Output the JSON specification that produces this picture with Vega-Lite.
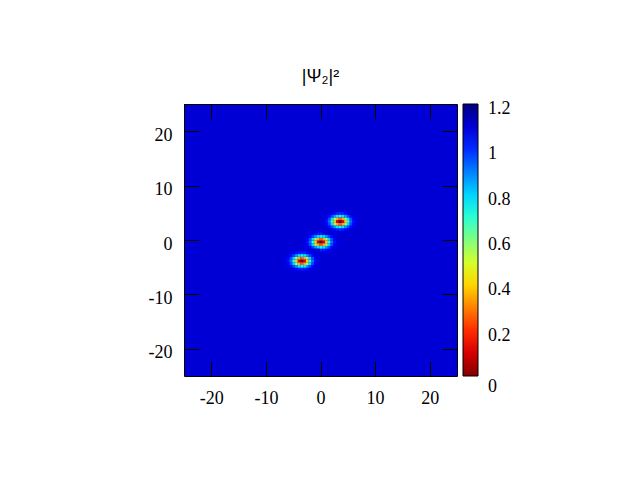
{
"$schema":"https://vega.github.io/schema/vega-lite/v6.json",
"width":273,"height":272,
"autosize":{"type":"none"},
"padding":{"left":184,"top":104,"right":183,"bottom":104},
"background":"white",
"title":{"text":"|Ψ₂|²","font":"Liberation Sans","fontSize":18,"fontWeight":"normal","color":"black","offset":18,"anchor":"middle"},
"config":{"view":{"stroke":null},
 "axis":{"grid":false,"domain":true,"domainColor":"black","domainWidth":1,"ticks":true,"tickColor":"black","tickWidth":1,"tickSize":-15,"labelFont":"Liberation Serif","labelFontSize":18,"labelColor":"black","title":null,"labelExpr":"'' + datum.value"}},
"datasets":{
"bg":[{"x0":-25,"x1":25,"y0":-25,"y1":25,"v":1.1}],
"spots":[
{"x":-3.25,"y":-2.5,"v":1.1},{"x":-2.75,"y":-2.5,"v":1.099},{"x":-2.25,"y":-2.5,"v":1.098},{"x":-1.75,"y":-2.5,"v":1.095},{"x":-1.25,"y":-2.5,"v":1.092},{"x":-0.75,"y":-2.5,"v":1.088},{"x":-0.25,"y":-2.5,"v":1.087},{"x":0.25,"y":-2.5,"v":1.088},{"x":0.75,"y":-2.5,"v":1.092},{"x":1.25,"y":-2.5,"v":1.095},{"x":1.75,"y":-2.5,"v":1.098},{"x":2.25,"y":-2.5,"v":1.099},{"x":2.75,"y":-2.5,"v":1.1},
{"x":-3.25,"y":-2,"v":1.098},{"x":-2.75,"y":-2,"v":1.094},{"x":-2.25,"y":-2,"v":1.085},{"x":-1.75,"y":-2,"v":1.067},{"x":-1.25,"y":-2,"v":1.042},{"x":-0.75,"y":-2,"v":1.019},{"x":-0.25,"y":-2,"v":1.009},{"x":0.25,"y":-2,"v":1.019},{"x":0.75,"y":-2,"v":1.042},{"x":1.25,"y":-2,"v":1.067},{"x":1.75,"y":-2,"v":1.085},{"x":2.25,"y":-2,"v":1.094},{"x":2.75,"y":-2,"v":1.098},
{"x":-3.25,"y":-1.5,"v":1.093},{"x":-2.75,"y":-1.5,"v":1.077},{"x":-2.25,"y":-1.5,"v":1.039},{"x":-1.75,"y":-1.5,"v":0.966},{"x":-1.25,"y":-1.5,"v":0.867},{"x":-0.75,"y":-1.5,"v":0.775},{"x":-0.25,"y":-1.5,"v":0.737},{"x":0.25,"y":-1.5,"v":0.775},{"x":0.75,"y":-1.5,"v":0.867},{"x":1.25,"y":-1.5,"v":0.966},{"x":1.75,"y":-1.5,"v":1.039},{"x":2.25,"y":-1.5,"v":1.077},{"x":2.75,"y":-1.5,"v":1.093},
{"x":-3.25,"y":-1,"v":1.085},{"x":-2.75,"y":-1,"v":1.048},{"x":-2.25,"y":-1,"v":0.959},{"x":-1.75,"y":-1,"v":0.793},{"x":-1.25,"y":-1,"v":0.565},{"x":-0.75,"y":-1,"v":0.354},{"x":-0.25,"y":-1,"v":0.266},{"x":0.25,"y":-1,"v":0.354},{"x":0.75,"y":-1,"v":0.565},{"x":1.25,"y":-1,"v":0.793},{"x":1.75,"y":-1,"v":0.959},{"x":2.25,"y":-1,"v":1.048},{"x":2.75,"y":-1,"v":1.085},
{"x":-3.25,"y":-0.5,"v":1.08},{"x":-2.75,"y":-0.5,"v":1.032},{"x":-2.25,"y":-0.5,"v":0.914},{"x":-1.75,"y":-0.5,"v":0.695},{"x":-1.25,"y":-0.5,"v":0.395},{"x":-0.75,"y":-0.5,"v":0.116},{"x":-0.25,"y":-0.5,"v":0},{"x":0.25,"y":-0.5,"v":0.116},{"x":0.75,"y":-0.5,"v":0.395},{"x":1.25,"y":-0.5,"v":0.695},{"x":1.75,"y":-0.5,"v":0.914},{"x":2.25,"y":-0.5,"v":1.032},{"x":2.75,"y":-0.5,"v":1.08},
{"x":-3.25,"y":0,"v":1.085},{"x":-2.75,"y":0,"v":1.048},{"x":-2.25,"y":0,"v":0.959},{"x":-1.75,"y":0,"v":0.793},{"x":-1.25,"y":0,"v":0.565},{"x":-0.75,"y":0,"v":0.354},{"x":-0.25,"y":0,"v":0.266},{"x":0.25,"y":0,"v":0.354},{"x":0.75,"y":0,"v":0.565},{"x":1.25,"y":0,"v":0.793},{"x":1.75,"y":0,"v":0.959},{"x":2.25,"y":0,"v":1.048},{"x":2.75,"y":0,"v":1.085},
{"x":-3.25,"y":0.5,"v":1.093},{"x":-2.75,"y":0.5,"v":1.077},{"x":-2.25,"y":0.5,"v":1.039},{"x":-1.75,"y":0.5,"v":0.966},{"x":-1.25,"y":0.5,"v":0.867},{"x":-0.75,"y":0.5,"v":0.775},{"x":-0.25,"y":0.5,"v":0.737},{"x":0.25,"y":0.5,"v":0.775},{"x":0.75,"y":0.5,"v":0.867},{"x":1.25,"y":0.5,"v":0.966},{"x":1.75,"y":0.5,"v":1.039},{"x":2.25,"y":0.5,"v":1.077},{"x":2.75,"y":0.5,"v":1.093},
{"x":-3.25,"y":1,"v":1.098},{"x":-2.75,"y":1,"v":1.094},{"x":-2.25,"y":1,"v":1.085},{"x":-1.75,"y":1,"v":1.067},{"x":-1.25,"y":1,"v":1.042},{"x":-0.75,"y":1,"v":1.019},{"x":-0.25,"y":1,"v":1.009},{"x":0.25,"y":1,"v":1.019},{"x":0.75,"y":1,"v":1.042},{"x":1.25,"y":1,"v":1.067},{"x":1.75,"y":1,"v":1.085},{"x":2.25,"y":1,"v":1.094},{"x":2.75,"y":1,"v":1.098},
{"x":-3.25,"y":1.5,"v":1.1},{"x":-2.75,"y":1.5,"v":1.099},{"x":-2.25,"y":1.5,"v":1.098},{"x":-1.75,"y":1.5,"v":1.095},{"x":-1.25,"y":1.5,"v":1.092},{"x":-0.75,"y":1.5,"v":1.088},{"x":-0.25,"y":1.5,"v":1.087},{"x":0.25,"y":1.5,"v":1.088},{"x":0.75,"y":1.5,"v":1.092},{"x":1.25,"y":1.5,"v":1.095},{"x":1.75,"y":1.5,"v":1.098},{"x":2.25,"y":1.5,"v":1.099},{"x":2.75,"y":1.5,"v":1.1},

{"x":0.25,"y":1.25,"v":1.1},{"x":0.75,"y":1.25,"v":1.099},{"x":1.25,"y":1.25,"v":1.098},{"x":1.75,"y":1.25,"v":1.095},{"x":2.25,"y":1.25,"v":1.092},{"x":2.75,"y":1.25,"v":1.088},{"x":3.25,"y":1.25,"v":1.087},{"x":3.75,"y":1.25,"v":1.088},{"x":4.25,"y":1.25,"v":1.092},{"x":4.75,"y":1.25,"v":1.095},{"x":5.25,"y":1.25,"v":1.098},{"x":5.75,"y":1.25,"v":1.099},{"x":6.25,"y":1.25,"v":1.1},
{"x":0.25,"y":1.75,"v":1.098},{"x":0.75,"y":1.75,"v":1.094},{"x":1.25,"y":1.75,"v":1.085},{"x":1.75,"y":1.75,"v":1.067},{"x":2.25,"y":1.75,"v":1.042},{"x":2.75,"y":1.75,"v":1.019},{"x":3.25,"y":1.75,"v":1.009},{"x":3.75,"y":1.75,"v":1.019},{"x":4.25,"y":1.75,"v":1.042},{"x":4.75,"y":1.75,"v":1.067},{"x":5.25,"y":1.75,"v":1.085},{"x":5.75,"y":1.75,"v":1.094},{"x":6.25,"y":1.75,"v":1.098},
{"x":0.25,"y":2.25,"v":1.093},{"x":0.75,"y":2.25,"v":1.077},{"x":1.25,"y":2.25,"v":1.039},{"x":1.75,"y":2.25,"v":0.966},{"x":2.25,"y":2.25,"v":0.867},{"x":2.75,"y":2.25,"v":0.775},{"x":3.25,"y":2.25,"v":0.737},{"x":3.75,"y":2.25,"v":0.775},{"x":4.25,"y":2.25,"v":0.867},{"x":4.75,"y":2.25,"v":0.966},{"x":5.25,"y":2.25,"v":1.039},{"x":5.75,"y":2.25,"v":1.077},{"x":6.25,"y":2.25,"v":1.093},
{"x":0.25,"y":2.75,"v":1.085},{"x":0.75,"y":2.75,"v":1.048},{"x":1.25,"y":2.75,"v":0.959},{"x":1.75,"y":2.75,"v":0.793},{"x":2.25,"y":2.75,"v":0.565},{"x":2.75,"y":2.75,"v":0.354},{"x":3.25,"y":2.75,"v":0.266},{"x":3.75,"y":2.75,"v":0.354},{"x":4.25,"y":2.75,"v":0.565},{"x":4.75,"y":2.75,"v":0.793},{"x":5.25,"y":2.75,"v":0.959},{"x":5.75,"y":2.75,"v":1.048},{"x":6.25,"y":2.75,"v":1.085},
{"x":0.25,"y":3.25,"v":1.08},{"x":0.75,"y":3.25,"v":1.032},{"x":1.25,"y":3.25,"v":0.914},{"x":1.75,"y":3.25,"v":0.695},{"x":2.25,"y":3.25,"v":0.395},{"x":2.75,"y":3.25,"v":0.116},{"x":3.25,"y":3.25,"v":0},{"x":3.75,"y":3.25,"v":0.116},{"x":4.25,"y":3.25,"v":0.395},{"x":4.75,"y":3.25,"v":0.695},{"x":5.25,"y":3.25,"v":0.914},{"x":5.75,"y":3.25,"v":1.032},{"x":6.25,"y":3.25,"v":1.08},
{"x":0.25,"y":3.75,"v":1.085},{"x":0.75,"y":3.75,"v":1.048},{"x":1.25,"y":3.75,"v":0.959},{"x":1.75,"y":3.75,"v":0.793},{"x":2.25,"y":3.75,"v":0.565},{"x":2.75,"y":3.75,"v":0.354},{"x":3.25,"y":3.75,"v":0.266},{"x":3.75,"y":3.75,"v":0.354},{"x":4.25,"y":3.75,"v":0.565},{"x":4.75,"y":3.75,"v":0.793},{"x":5.25,"y":3.75,"v":0.959},{"x":5.75,"y":3.75,"v":1.048},{"x":6.25,"y":3.75,"v":1.085},
{"x":0.25,"y":4.25,"v":1.093},{"x":0.75,"y":4.25,"v":1.077},{"x":1.25,"y":4.25,"v":1.039},{"x":1.75,"y":4.25,"v":0.966},{"x":2.25,"y":4.25,"v":0.867},{"x":2.75,"y":4.25,"v":0.775},{"x":3.25,"y":4.25,"v":0.737},{"x":3.75,"y":4.25,"v":0.775},{"x":4.25,"y":4.25,"v":0.867},{"x":4.75,"y":4.25,"v":0.966},{"x":5.25,"y":4.25,"v":1.039},{"x":5.75,"y":4.25,"v":1.077},{"x":6.25,"y":4.25,"v":1.093},
{"x":0.25,"y":4.75,"v":1.098},{"x":0.75,"y":4.75,"v":1.094},{"x":1.25,"y":4.75,"v":1.085},{"x":1.75,"y":4.75,"v":1.067},{"x":2.25,"y":4.75,"v":1.042},{"x":2.75,"y":4.75,"v":1.019},{"x":3.25,"y":4.75,"v":1.009},{"x":3.75,"y":4.75,"v":1.019},{"x":4.25,"y":4.75,"v":1.042},{"x":4.75,"y":4.75,"v":1.067},{"x":5.25,"y":4.75,"v":1.085},{"x":5.75,"y":4.75,"v":1.094},{"x":6.25,"y":4.75,"v":1.098},
{"x":0.25,"y":5.25,"v":1.1},{"x":0.75,"y":5.25,"v":1.099},{"x":1.25,"y":5.25,"v":1.098},{"x":1.75,"y":5.25,"v":1.095},{"x":2.25,"y":5.25,"v":1.092},{"x":2.75,"y":5.25,"v":1.088},{"x":3.25,"y":5.25,"v":1.087},{"x":3.75,"y":5.25,"v":1.088},{"x":4.25,"y":5.25,"v":1.092},{"x":4.75,"y":5.25,"v":1.095},{"x":5.25,"y":5.25,"v":1.098},{"x":5.75,"y":5.25,"v":1.099},{"x":6.25,"y":5.25,"v":1.1},

{"x":-6.75,"y":-6,"v":1.1},{"x":-6.25,"y":-6,"v":1.099},{"x":-5.75,"y":-6,"v":1.098},{"x":-5.25,"y":-6,"v":1.095},{"x":-4.75,"y":-6,"v":1.092},{"x":-4.25,"y":-6,"v":1.088},{"x":-3.75,"y":-6,"v":1.087},{"x":-3.25,"y":-6,"v":1.088},{"x":-2.75,"y":-6,"v":1.092},{"x":-2.25,"y":-6,"v":1.095},{"x":-1.75,"y":-6,"v":1.098},{"x":-1.25,"y":-6,"v":1.099},{"x":-0.75,"y":-6,"v":1.1},
{"x":-6.75,"y":-5.5,"v":1.098},{"x":-6.25,"y":-5.5,"v":1.094},{"x":-5.75,"y":-5.5,"v":1.085},{"x":-5.25,"y":-5.5,"v":1.067},{"x":-4.75,"y":-5.5,"v":1.042},{"x":-4.25,"y":-5.5,"v":1.019},{"x":-3.75,"y":-5.5,"v":1.009},{"x":-3.25,"y":-5.5,"v":1.019},{"x":-2.75,"y":-5.5,"v":1.042},{"x":-2.25,"y":-5.5,"v":1.067},{"x":-1.75,"y":-5.5,"v":1.085},{"x":-1.25,"y":-5.5,"v":1.094},{"x":-0.75,"y":-5.5,"v":1.098},
{"x":-6.75,"y":-5,"v":1.093},{"x":-6.25,"y":-5,"v":1.077},{"x":-5.75,"y":-5,"v":1.039},{"x":-5.25,"y":-5,"v":0.966},{"x":-4.75,"y":-5,"v":0.867},{"x":-4.25,"y":-5,"v":0.775},{"x":-3.75,"y":-5,"v":0.737},{"x":-3.25,"y":-5,"v":0.775},{"x":-2.75,"y":-5,"v":0.867},{"x":-2.25,"y":-5,"v":0.966},{"x":-1.75,"y":-5,"v":1.039},{"x":-1.25,"y":-5,"v":1.077},{"x":-0.75,"y":-5,"v":1.093},
{"x":-6.75,"y":-4.5,"v":1.085},{"x":-6.25,"y":-4.5,"v":1.048},{"x":-5.75,"y":-4.5,"v":0.959},{"x":-5.25,"y":-4.5,"v":0.793},{"x":-4.75,"y":-4.5,"v":0.565},{"x":-4.25,"y":-4.5,"v":0.354},{"x":-3.75,"y":-4.5,"v":0.266},{"x":-3.25,"y":-4.5,"v":0.354},{"x":-2.75,"y":-4.5,"v":0.565},{"x":-2.25,"y":-4.5,"v":0.793},{"x":-1.75,"y":-4.5,"v":0.959},{"x":-1.25,"y":-4.5,"v":1.048},{"x":-0.75,"y":-4.5,"v":1.085},
{"x":-6.75,"y":-4,"v":1.08},{"x":-6.25,"y":-4,"v":1.032},{"x":-5.75,"y":-4,"v":0.914},{"x":-5.25,"y":-4,"v":0.695},{"x":-4.75,"y":-4,"v":0.395},{"x":-4.25,"y":-4,"v":0.116},{"x":-3.75,"y":-4,"v":0},{"x":-3.25,"y":-4,"v":0.116},{"x":-2.75,"y":-4,"v":0.395},{"x":-2.25,"y":-4,"v":0.695},{"x":-1.75,"y":-4,"v":0.914},{"x":-1.25,"y":-4,"v":1.032},{"x":-0.75,"y":-4,"v":1.08},
{"x":-6.75,"y":-3.5,"v":1.085},{"x":-6.25,"y":-3.5,"v":1.048},{"x":-5.75,"y":-3.5,"v":0.959},{"x":-5.25,"y":-3.5,"v":0.793},{"x":-4.75,"y":-3.5,"v":0.565},{"x":-4.25,"y":-3.5,"v":0.354},{"x":-3.75,"y":-3.5,"v":0.266},{"x":-3.25,"y":-3.5,"v":0.354},{"x":-2.75,"y":-3.5,"v":0.565},{"x":-2.25,"y":-3.5,"v":0.793},{"x":-1.75,"y":-3.5,"v":0.959},{"x":-1.25,"y":-3.5,"v":1.048},{"x":-0.75,"y":-3.5,"v":1.085},
{"x":-6.75,"y":-3,"v":1.093},{"x":-6.25,"y":-3,"v":1.077},{"x":-5.75,"y":-3,"v":1.039},{"x":-5.25,"y":-3,"v":0.966},{"x":-4.75,"y":-3,"v":0.867},{"x":-4.25,"y":-3,"v":0.775},{"x":-3.75,"y":-3,"v":0.737},{"x":-3.25,"y":-3,"v":0.775},{"x":-2.75,"y":-3,"v":0.867},{"x":-2.25,"y":-3,"v":0.966},{"x":-1.75,"y":-3,"v":1.039},{"x":-1.25,"y":-3,"v":1.077},{"x":-0.75,"y":-3,"v":1.093},
{"x":-6.75,"y":-2.5,"v":1.098},{"x":-6.25,"y":-2.5,"v":1.094},{"x":-5.75,"y":-2.5,"v":1.085},{"x":-5.25,"y":-2.5,"v":1.067},{"x":-4.75,"y":-2.5,"v":1.042},{"x":-4.25,"y":-2.5,"v":1.019},{"x":-3.75,"y":-2.5,"v":1.009},{"x":-3.25,"y":-2.5,"v":1.019},{"x":-2.75,"y":-2.5,"v":1.042},{"x":-2.25,"y":-2.5,"v":1.067},{"x":-1.75,"y":-2.5,"v":1.085},{"x":-1.25,"y":-2.5,"v":1.094},{"x":-0.75,"y":-2.5,"v":1.098},
{"x":-6.75,"y":-2,"v":1.1},{"x":-6.25,"y":-2,"v":1.099},{"x":-5.75,"y":-2,"v":1.098},{"x":-5.25,"y":-2,"v":1.095},{"x":-4.75,"y":-2,"v":1.092},{"x":-4.25,"y":-2,"v":1.088},{"x":-3.75,"y":-2,"v":1.087},{"x":-3.25,"y":-2,"v":1.088},{"x":-2.75,"y":-2,"v":1.092},{"x":-2.25,"y":-2,"v":1.095},{"x":-1.75,"y":-2,"v":1.098},{"x":-1.25,"y":-2,"v":1.099},{"x":-0.75,"y":-2,"v":1.1}
]},
"layer":[
 {"data":{"name":"bg"},"mark":{"type":"rect"},
  "encoding":{
   "x":{"field":"x0","type":"quantitative","scale":{"domain":[-25,25],"nice":false,"zero":false},"axis":{"orient":"bottom","zindex":2,"values":[-20,-10,0,10,20],"labelPadding":28}},
   "x2":{"field":"x1"},
   "y":{"field":"y0","type":"quantitative","scale":{"domain":[-25,25],"nice":false,"zero":false},"axis":{"orient":"left","zindex":2,"values":[-20,-10,0,10,20],"labelPadding":27,"labelBaseline":"middle","labelOffset":4}},
   "y2":{"field":"y1"},
   "color":{"field":"v","type":"quantitative",
     "scale":{"domain":[0,0.15,0.45,0.75,1.05,1.2],"range":["#800000","#ff0000","#ffff00","#00ffff","#0000ff","#000080"],"interpolate":"rgb"},
     "legend":{"orient":"right","offset":5,"title":null,"direction":"vertical","gradientLength":272,"gradientThickness":15,"gradientStrokeColor":"black","gradientStrokeWidth":1,"values":[0,0.2,0.4,0.6,0.8,1,1.2],"format":"~g","labelFont":"Liberation Serif","labelFontSize":18,"labelColor":"black","labelOffset":10,"labelOverlap":false,"encode":{"labels":{"update":{"baseline":{"value":"middle"},"dy":{"signal":"datum.value === 0 ? 11 : 5"}}}}}}
  }},
 {"data":{"name":"spots"},"mark":{"type":"rect"},
  "encoding":{
   "x":{"field":"x","type":"quantitative","bin":{"binned":true,"step":0.5},"axis":{"orient":"top","zindex":2,"values":[-20,-10,0,10,20],"labels":false}},
   "y":{"field":"y","type":"quantitative","bin":{"binned":true,"step":0.5},"axis":{"orient":"right","zindex":2,"values":[-20,-10,0,10,20],"labels":false}},
   "color":{"field":"v","type":"quantitative",
     "scale":{"domain":[0,0.15,0.45,0.75,1.05,1.2],"range":["#800000","#ff0000","#ffff00","#00ffff","#0000ff","#000080"],"interpolate":"rgb"},
     "legend":{"orient":"right","offset":5,"title":null,"direction":"vertical","gradientLength":272,"gradientThickness":15,"gradientStrokeColor":"black","gradientStrokeWidth":1,"values":[0,0.2,0.4,0.6,0.8,1,1.2],"format":"~g","labelFont":"Liberation Serif","labelFontSize":18,"labelColor":"black","labelOffset":10,"labelOverlap":false,"encode":{"labels":{"update":{"baseline":{"value":"middle"},"dy":{"signal":"datum.value === 0 ? 11 : 5"}}}}}}
  }}
],
"resolve":{"axis":{"x":"independent","y":"independent"}}
}
